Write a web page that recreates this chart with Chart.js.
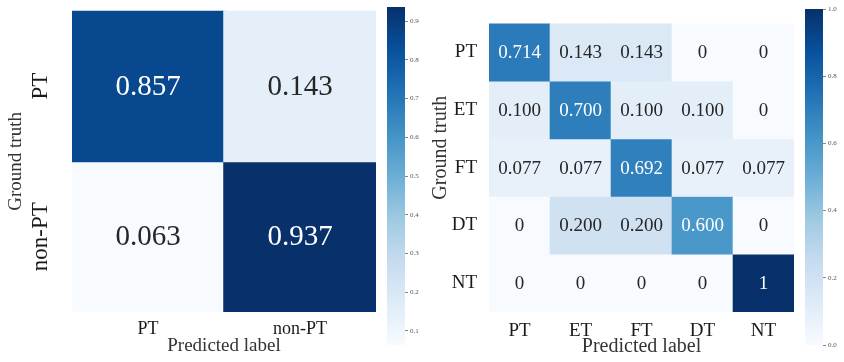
<!DOCTYPE html>
<html>
<head>
<meta charset="utf-8">
<script src="https://cdn.jsdelivr.net/npm/chart.js@4.4.1/dist/chart.umd.min.js"></script>
<style>
  html, body { margin: 0; padding: 0; background: #fff; }
  #wrap { position: relative; width: 844px; height: 362px; overflow: hidden; }
  .box { position: absolute; top: 0; height: 362px; }
  canvas { display: block; }
</style>
</head>
<body>
<div id="wrap">
  <div class="box" style="left:0;width:380px"><canvas id="cmBinary" width="380" height="362"></canvas></div>
  <div class="box" style="left:380px;width:48px"><canvas id="cbBinary" width="48" height="362"></canvas></div>
  <div class="box" style="left:428px;width:370px"><canvas id="cmStage" width="370" height="362"></canvas></div>
  <div class="box" style="left:798px;width:46px"><canvas id="cbStage" width="46" height="362"></canvas></div>
</div>
<script>
// ---- data ----
const binaryLabels = ['PT', 'non-PT'];
const binaryMatrix = [
  [0.857, 0.143],
  [0.063, 0.937]
];
const binaryBarTicks = [0.1, 0.2, 0.3, 0.4, 0.5, 0.6, 0.7, 0.8, 0.9];

const stageLabels = ['PT', 'ET', 'FT', 'DT', 'NT'];
const stageMatrix = [
  [0.714, 0.143, 0.143, 0,     0    ],
  [0.100, 0.700, 0.100, 0.100, 0    ],
  [0.077, 0.077, 0.692, 0.077, 0.077],
  [0,     0.200, 0.200, 0.600, 0    ],
  [0,     0,     0,     0,     1    ]
];
const stageBarTicks = [0, 0.2, 0.4, 0.6, 0.8, 1.0];

const xTitle = 'Predicted label';
const yTitle = 'Ground truth';

// ---- styling helpers ----
const SERIF = "'Liberation Serif', 'DejaVu Serif', serif";
const BLUES = ['#f7fbff', '#deebf7', '#c6dbef', '#9ecae1', '#6baed6',
               '#4292c6', '#2171b5', '#08519c', '#08306b'];
// small overlap between neighbouring cells so anti-aliased edges leave no light seams
const SEAM = 0.005;

function hexToRgb(h) {
  return [1, 3, 5].map(k => parseInt(h.slice(k, k + 2), 16));
}
function blues(t) {
  t = Math.max(0, Math.min(1, t));
  const p = t * (BLUES.length - 1);
  const i = Math.min(BLUES.length - 2, Math.floor(p));
  const f = p - i;
  const a = hexToRgb(BLUES[i]), b = hexToRgb(BLUES[i + 1]);
  const c = a.map((v, k) => Math.round(v + (b[k] - v) * f));
  return `rgb(${c[0]},${c[1]},${c[2]})`;
}
function luminance(rgbStr) {
  const c = rgbStr.match(/\d+/g).map(Number).map(v => {
    v /= 255;
    return v <= 0.03928 ? v / 12.92 : Math.pow((v + 0.055) / 1.055, 2.4);
  });
  return 0.2126 * c[0] + 0.7152 * c[1] + 0.0722 * c[2];
}
function cellFormat(v) {
  return Number.isInteger(v) ? String(v) : v.toFixed(3);
}

// writes each cell's value in the middle of its bar
const cellText = {
  id: 'cellText',
  afterDatasetsDraw(chart, args, opts) {
    const ctx = chart.ctx;
    ctx.save();
    ctx.font = `${opts.size}px ${SERIF}`;
    ctx.textAlign = 'center';
    ctx.textBaseline = 'middle';
    chart.data.datasets.forEach((ds, i) => {
      chart.getDatasetMeta(i).data.forEach((el, j) => {
        const fill = ds.backgroundColor[j];
        ctx.fillStyle = luminance(fill) > 0.408 ? '#262626' : '#ffffff';
        ctx.fillText(cellFormat(opts.matrix[i][j]), el.x, (el.y + el.base) / 2 + opts.dy);
      });
    });
    ctx.restore();
  }
};

// heatmap built from floating bars: one dataset per true-label row
function matrixChart(id, labels, matrix, vmin, vmax, o) {
  const n = labels.length;
  const norm = v => (v - vmin) / (vmax - vmin);
  const datasets = matrix.map((row, i) => ({
    label: labels[i],
    data: row.map(() => [i - SEAM, i + 1 + SEAM]),
    backgroundColor: row.map(v => blues(norm(v))),
    borderWidth: 0,
    borderSkipped: false,
    barPercentage: 1 + 2 * SEAM,
    categoryPercentage: 1,
    grouped: false
  }));
  return new Chart(document.getElementById(id), {
    type: 'bar',
    data: { labels, datasets },
    plugins: [cellText],
    options: {
      responsive: false,
      animation: false,
      events: [],
      layout: { padding: { top: o.top, right: o.right, left: 0, bottom: 0 } },
      plugins: {
        legend: { display: false },
        tooltip: { enabled: false },
        cellText: { matrix, size: o.cellSize, dy: o.cellDy }
      },
      scales: {
        x: {
          type: 'category',
          position: 'bottom',
          grid: { display: false, drawTicks: false },
          border: { display: false },
          ticks: {
            font: { family: SERIF, size: o.xTickSize },
            color: '#1a1a1a',
            padding: o.xTickPad,
            maxRotation: 0, minRotation: 0, autoSkip: false
          },
          title: {
            display: true, text: xTitle, color: '#333',
            font: { family: SERIF, size: o.titleSize, lineHeight: 1 },
            padding: { top: 0, bottom: o.xTitlePad }
          },
          afterFit: s => { s.height = o.xHeight; }
        },
        y: {
          type: 'linear',
          min: 0, max: n,
          reverse: true,
          grid: { display: false, drawTicks: false },
          border: { display: false },
          afterBuildTicks: s => { s.ticks = labels.map((_, i) => ({ value: i + 0.5 })); },
          ticks: {
            callback: v => labels[Math.round(v - 0.5)],
            font: { family: SERIF, size: o.yTickSize },
            color: '#1a1a1a',
            padding: o.yTickPad,
            minRotation: o.yRot, maxRotation: o.yRot,
            crossAlign: o.yCross
          },
          title: {
            display: true, text: o.yTitleText, color: '#333',
            font: { family: SERIF, size: o.titleSize, lineHeight: 1 },
            padding: { top: o.yTitlePad, bottom: 0 }
          },
          afterFit: s => { s.width = o.yWidth; }
        }
      }
    }
  });
}

// colour bar: a single floating bar spanning the colour range, painted with the colormap
function colorBar(id, vmin, vmax, ticks, o) {
  return new Chart(document.getElementById(id), {
    type: 'bar',
    data: {
      labels: [''],
      datasets: [{
        data: [[vmin, vmax]],
        backgroundColor: c => {
          const a = c.chart.chartArea;
          if (!a) return BLUES[4];
          const g = c.chart.ctx.createLinearGradient(0, a.bottom, 0, a.top);
          BLUES.forEach((col, k) => g.addColorStop(k / (BLUES.length - 1), col));
          return g;
        },
        borderWidth: 0,
        borderSkipped: false,
        barPercentage: 1,
        categoryPercentage: 1
      }]
    },
    options: {
      responsive: false,
      animation: false,
      events: [],
      layout: { padding: { left: o.left, top: o.top, bottom: o.bottom, right: 0 } },
      plugins: { legend: { display: false }, tooltip: { enabled: false } },
      scales: {
        x: { display: false },
        y: {
          position: 'right',
          min: vmin, max: vmax,
          afterBuildTicks: s => { s.ticks = ticks.map(v => ({ value: v })); },
          ticks: {
            callback: v => v.toFixed(1),
            font: { family: SERIF, size: 7 },
            color: '#555',
            padding: 2
          },
          grid: { drawOnChartArea: false, drawTicks: true, tickLength: 3, color: '#666', lineWidth: 0.8 },
          border: { display: false },
          afterFit: s => { s.width = o.axisWidth; }
        }
      }
    }
  });
}

matrixChart('cmBinary', binaryLabels, binaryMatrix,
  Math.min(...binaryMatrix.flat()), Math.max(...binaryMatrix.flat()), {
    top: 8, right: 4, xHeight: 50, yWidth: 72,
    cellSize: 29, cellDy: 1,
    xTickSize: 18, xTickPad: 6,
    yTickSize: 23, yTickPad: -3, yRot: 90, yCross: 'center',
    titleSize: 19, xTitlePad: 6, yTitlePad: 7, yTitleText: yTitle
  });
colorBar('cbBinary', Math.min(...binaryMatrix.flat()), Math.max(...binaryMatrix.flat()), binaryBarTicks,
  { left: 7, top: 7, bottom: 17, axisWidth: 23 });

matrixChart('cmStage', stageLabels, stageMatrix, 0, 1, {
    top: 7, right: 4, xHeight: 50, yWidth: 61,
    cellSize: 19, cellDy: 1,
    xTickSize: 19, xTickPad: 8,
    yTickSize: 19, yTickPad: 12, yRot: 0, yCross: 'near',
    titleSize: 20, xTitlePad: 5, yTitlePad: 3, yTitleText: '        ' + yTitle
  });
colorBar('cbStage', 0, 1, stageBarTicks, { left: 7, top: 9, bottom: 17, axisWidth: 21 });
</script>
</body>
</html>
